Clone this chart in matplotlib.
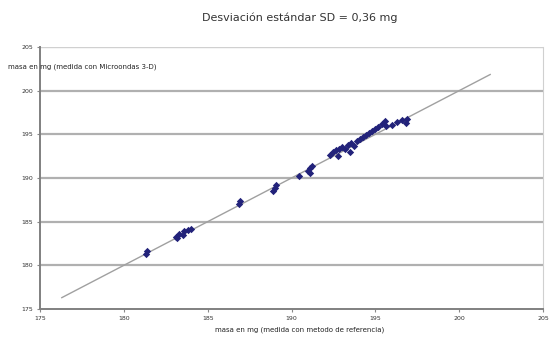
import matplotlib
matplotlib.use("Agg")
import matplotlib.pyplot as plt

# Data (mg)
ref_x = [181.3, 181.4,
         183.1, 183.3, 183.5, 183.6, 183.8, 184.0, 183.2,
         186.85, 186.9,
         188.9, 189.0, 189.05,
         190.45,
         191.0, 191.1, 191.2, 191.1,
         192.30, 192.48, 192.66, 192.84, 193.02, 193.20, 193.38, 193.56, 193.73,
         193.91, 194.09, 194.27, 194.45, 194.63, 194.81, 194.99, 195.17, 195.41,
         195.59, 195.64, 196.0, 196.3, 196.6, 196.9, 196.84, 192.78, 193.5]
meas_y = [181.3, 181.6,
          183.3, 183.6, 183.5, 183.9, 184.0, 184.2, 183.1,
          187.0, 187.4,
          188.5, 188.9, 189.2,
          190.2,
          190.8, 191.1, 191.4, 190.6,
          192.62, 192.96, 193.19, 193.31, 193.54, 193.31, 193.76, 193.99, 193.65,
          194.22, 194.45, 194.68, 194.91, 195.14, 195.37, 195.59, 195.82, 196.17,
          196.51, 195.94, 196.05, 196.4, 196.6, 196.7, 196.28, 192.5, 192.96]
line_x = [176.3, 201.85]
ticks = [175, 180, 185, 190, 195, 200, 205]

title = "Desviación estándar SD = 0,36 mg"
ylabel = "masa en mg (medida con Microondas 3-D)"
xlabel = "masa en mg (medida con metodo de referencia)"

fig = plt.figure(figsize=(5.5, 3.4), dpi=100)
ax = fig.add_axes([40/550, 31/340, 503/550, 262/340])

ax.set_xlim(175, 205)
ax.set_ylim(175, 205)
ax.set_xticks(ticks)
ax.set_yticks(ticks)
ax.set_xticklabels([str(t) for t in ticks], fontsize=4.5, color="#333333")
ax.set_yticklabels([str(t) for t in ticks], fontsize=4.5, color="#333333")
ax.tick_params(axis="both", length=2, width=0.8, color="#888888", pad=3)

for t in ticks[1:-1]:
    ax.axhline(t, color="#b0b0b0", lw=1.6, zorder=1)
ax.axhline(205, color="#d0d0d0", lw=1.0, zorder=1)

for s in ["left", "bottom"]:
    ax.spines[s].set_color("#808080")
    ax.spines[s].set_linewidth(1.4)
ax.spines["right"].set_color("#d0d0d0")
ax.spines["right"].set_linewidth(0.8)
ax.spines["top"].set_visible(False)

ax.plot(line_x, line_x, color="#a0a0a0", lw=1.0, zorder=2)
ax.scatter(ref_x, meas_y, marker="D", s=14, color="#22227a", zorder=3, linewidths=0)

fig.text(300/550, 1 - 18/340, title, ha="center", va="center", fontsize=8, color="#333333")
fig.text(8/550, 1 - 67/340, ylabel, ha="left", va="center", fontsize=5, color="#222222")
fig.text(300/550, 1 - 330/340, xlabel, ha="center", va="center", fontsize=5, color="#222222")

fig.savefig("out.png", dpi=100, facecolor="white")
